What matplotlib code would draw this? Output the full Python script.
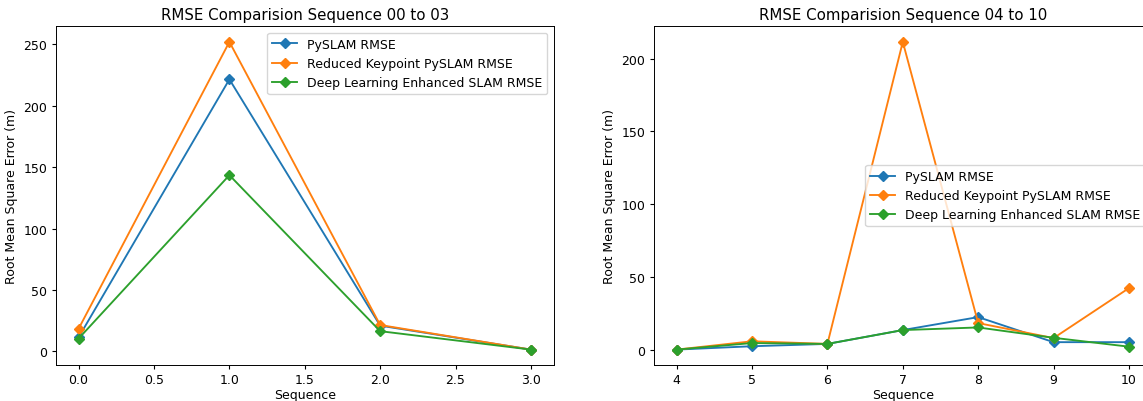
import matplotlib
matplotlib.use("Agg")
import matplotlib.pyplot as plt

seq_a = [0, 1, 2, 3]
pyslam_a = [11.5, 221.5, 21.0, 1.5]
reduced_a = [18.5, 252.0, 21.5, 1.5]
deep_a = [10.5, 143.5, 16.5, 1.5]

seq_b = [4, 5, 6, 7, 8, 9, 10]
pyslam_b = [0.3, 2.6, 4.2, 13.7, 22.6, 5.4, 5.4]
reduced_b = [0.3, 6.0, 4.2, 211.5, 18.5, 8.2, 42.5]
deep_b = [0.3, 4.8, 4.2, 13.7, 15.5, 8.4, 2.3]

labels = ["PySLAM RMSE", "Reduced Keypoint PySLAM RMSE", "Deep Learning Enhanced SLAM RMSE"]

# reference looks like a bigger figure shrunk ~0.9x
plt.rcParams["font.size"] = 9
plt.rcParams["axes.titlesize"] = 10.8
plt.rcParams["lines.linewidth"] = 1.35
plt.rcParams["lines.markersize"] = 5.4
plt.rcParams["axes.linewidth"] = 0.7
plt.rcParams["xtick.major.size"] = 3.2
plt.rcParams["ytick.major.size"] = 3.2
plt.rcParams["xtick.major.pad"] = 2.6
plt.rcParams["ytick.major.pad"] = 3.2
plt.rcParams["axes.labelpad"] = 2.5
plt.rcParams["axes.titlepad"] = 5.4

fig = plt.figure(figsize=(11.43, 4.02), dpi=100)
ax1 = fig.add_axes([0.049, 0.0896, 0.4353, 0.842])
ax2 = fig.add_axes([0.5722, 0.0896, 0.4353, 0.842])

for ys, lab in zip([pyslam_a, reduced_a, deep_a], labels):
    ax1.plot(seq_a, ys, marker="D", label=lab)
ax1.set_title("RMSE Comparision Sequence 00 to 03")
ax1.set_xlabel("Sequence", labelpad=1.5)
ax1.set_ylabel("Root Mean Square Error (m)", labelpad=3.6)
ax1.legend(loc="upper right")

for ys, lab in zip([pyslam_b, reduced_b, deep_b], labels):
    ax2.plot(seq_b, ys, marker="D", label=lab)
ax2.set_title("RMSE Comparision Sequence 04 to 10")
ax2.set_xlabel("Sequence", labelpad=1.5)
ax2.set_ylabel("Root Mean Square Error (m)", labelpad=3.6)
ax2.legend(loc="center right")

fig.savefig("out.png", dpi=100)
